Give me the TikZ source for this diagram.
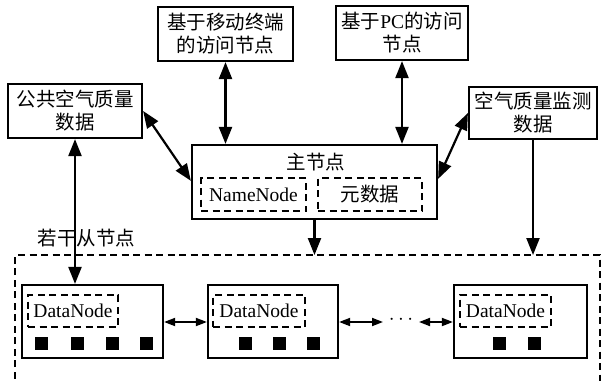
\documentclass[tikz,border=0pt]{standalone}
\usepackage{fontspec}
\setmainfont{Liberation Serif}
\newfontfamily\cjk{Noto Sans CJK SC}
\usetikzlibrary{arrows.meta,calc}

\tikzset{
  txt/.style={font=\fontsize{19.5}{23}\selectfont},
  box/.style={draw, line width=2.2pt, align=center, inner sep=0pt, txt},
  dbox/.style={draw, line width=1.6pt, dash pattern=on 7pt off 4.5pt, inner sep=0pt, txt},
  sq/.style={fill=black, minimum size=13pt, inner sep=0pt},
  bigarrow/.style={line width=2.2pt, {Triangle[length=17pt,width=13pt]}-{Triangle[length=17pt,width=13pt]}},
  downarrow/.style={line width=2.2pt, -{Triangle[length=17pt,width=13pt]}},
  smallarrow/.style={line width=1.8pt, {Triangle[length=11pt,width=8pt]}-{Triangle[length=11pt,width=8pt]}},
}

\begin{document}
\begin{tikzpicture}[x=1pt,y=-1pt]
\useasboundingbox (0,0) rectangle (602,380);

% access and data source boxes
\node[box, minimum width=135pt, minimum height=54pt] (mob) at (225.5,34)
  {\cjk 基于移动终端\\\cjk 的访问节点};
\node[box, minimum width=132pt, minimum height=54pt] (pc) at (402,33)
  {{\cjk 基于}PC{\cjk 的访问}\\\cjk 节点};
\node[box, minimum width=134pt, minimum height=54pt] (pub) at (75,111)
  {\cjk 公共空气质量\\\cjk 数据};
\node[box, minimum width=128pt, minimum height=52pt] (mon) at (533,113)
  {\cjk 空气质量监测\\\cjk 数据};

% master node
\node[box, minimum width=245pt, minimum height=74pt] (main) at (314.5,182) {};
\node[txt] (mainlbl) at (316,162) {\cjk 主节点};
\node[dbox, minimum width=105pt, minimum height=33pt] (nn) at (253.5,194.5) {NameNode};
\node[dbox, minimum width=104pt, minimum height=33pt] (meta) at (370,194.5) {\cjk 元数据};

% slave node group
\draw[line width=1.6pt, dash pattern=on 7pt off 4.5pt]
  (15,390) -- (15,255) -- (600,255) -- (600,390);
\coordinate (grouptop) at (314.5,255);
\node[txt, anchor=west] (grouplbl) at (34,238) {\cjk 若干从节点};

% data nodes
\node[box, minimum width=141pt, minimum height=73pt] (dn1) at (92.5,321.5) {};
\node[box, minimum width=130pt, minimum height=73pt] (dn2) at (273,321.5) {};
\node[box, minimum width=133pt, minimum height=73pt] (dn3) at (520.5,321.5) {};
\node[dbox, minimum width=90pt, minimum height=32pt] (dn1in) at (73,311) {DataNode};
\node[dbox, minimum width=92pt, minimum height=32pt] (dn2in) at (259,311) {DataNode};
\node[dbox, minimum width=91pt, minimum height=32pt] (dn3in) at (505.5,311) {DataNode};

% data blocks
\node[sq] (b11) at (41,343.5) {};
\node[sq] (b12) at (77.5,343.5) {};
\node[sq] (b13) at (112.5,343.5) {};
\node[sq] (b14) at (146,343.5) {};
\node[sq] (b21) at (245.5,343.5) {};
\node[sq] (b22) at (279.5,343.5) {};
\node[sq] (b23) at (313.5,343.5) {};
\node[sq] (b31) at (499,343.5) {};
\node[sq] (b32) at (534,343.5) {};

% ellipsis between data nodes
\node[txt] (dots) at (401,320) {$\cdots$};
\coordinate (dotsL) at (383,322);
\coordinate (dotsR) at (419,322);

% connectors
\draw[bigarrow] (mob.south) -- (mob.south |- main.north);
\draw[bigarrow] (pc.south) -- (pc.south |- main.north);
\draw[bigarrow] (pub.east) -- ($(main.north west)+(0,37)$);
\draw[bigarrow] (mon.west) -- ($(main.north east)+(0,35)$);
\draw[bigarrow] (pub.south) -- (pub.south |- dn1.north);
\draw[downarrow] (mon.south) -- (mon.south |- grouptop);
\draw[downarrow] (main.south) -- (grouptop);

\draw[smallarrow] (dn1.east |- 0,322) -- (dn2.west |- 0,322);
\draw[smallarrow] (dn2.east |- 0,322) -- (dotsL);
\draw[smallarrow] (dotsR) -- (dn3.west |- 0,322);
\end{tikzpicture}
\end{document}
